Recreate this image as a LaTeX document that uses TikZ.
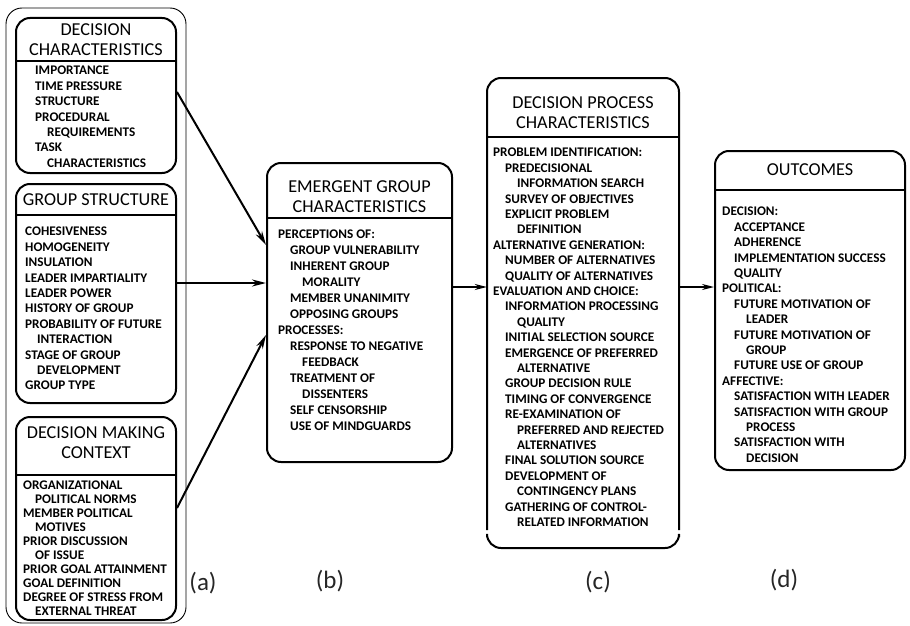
\documentclass[tikz,border=0pt]{standalone}
\usepackage{fontspec}
\setmainfont{Carlito}
\usetikzlibrary{arrows.meta}
\newcommand\indA{\hspace*{12pt}}
\newcommand\indB{\hspace*{24pt}}
\begin{document}
\begin{tikzpicture}[x=1pt,y=-1pt,
  boxline/.style={draw, line width=2pt, rounded corners=14pt, inner sep=0pt},
  frameline/.style={draw, line width=0.9pt, rounded corners=16pt},
  divider/.style={line width=1.3pt},
  title/.style={font=\fontsize{18.2}{20}\selectfont, align=center, inner sep=0pt},
  items/.style={font=\fontsize{13.2}{15.4}\selectfont\bfseries, align=left, anchor=north west, inner sep=0pt},
  link/.style={line width=2pt, -{Stealth[length=14pt,width=7pt]}},
  flow/.style={line width=1.5pt, -{Stealth[length=12pt,width=6pt]}},
  tag/.style={font=\fontsize{25}{30}\selectfont, text=black!85, inner sep=0pt}
]
\useasboundingbox (0,0) rectangle (910,626);

% ---------- column (a): antecedent conditions ----------
\draw[frameline] (6,8) rectangle (186,623);

\node[boxline, minimum width=160pt, minimum height=155pt] (a1) at (96,95.5) {};
\draw[divider] (a1.west |- 0,61) -- (a1.east |- 0,61);
\node[title] (a1t) at (96,40) {DECISION\\CHARACTERISTICS};
\node[items] (a1i) at (35,66) {IMPORTANCE\\TIME PRESSURE\\STRUCTURE\\PROCEDURAL\\
\indA REQUIREMENTS\\TASK\\\indA CHARACTERISTICS};

\node[boxline, minimum width=160pt, minimum height=219pt] (a2) at (96,293.5) {};
\draw[divider] (a2.west |- 0,215) -- (a2.east |- 0,215);
\node[title] (a2t) at (96,200) {GROUP STRUCTURE};
\node[items] (a2i) at (25,227) {COHESIVENESS\\HOMOGENEITY\\INSULATION\\LEADER IMPARTIALITY\\
LEADER POWER\\HISTORY OF GROUP\\PROBABILITY OF FUTURE\\\indA INTERACTION\\
STAGE OF GROUP\\\indA DEVELOPMENT\\GROUP TYPE};

\node[boxline, minimum width=160pt, minimum height=203pt] (a3) at (96,518.5) {};
\draw[divider] (a3.west |- 0,475) -- (a3.east |- 0,475);
\node[title] (a3t) at (96,443) {DECISION MAKING\\CONTEXT};
\node[items, font=\fontsize{13.2}{14}\selectfont\bfseries] (a3i) at (23,481) {ORGANIZATIONAL\\
\indA POLITICAL NORMS\\MEMBER POLITICAL\\\indA MOTIVES\\PRIOR DISCUSSION\\\indA OF ISSUE\\
PRIOR GOAL ATTAINMENT\\GOAL DEFINITION\\DEGREE OF STRESS FROM\\\indA EXTERNAL THREAT};

% ---------- column (b): emergent group characteristics ----------
\node[boxline, minimum width=185pt, minimum height=299pt] (b) at (359.5,312.5) {};
\draw[divider] (b.west |- 0,218) -- (b.east |- 0,218);
\node[title] (bt) at (359.5,197) {EMERGENT GROUP\\CHARACTERISTICS};
\node[items, font=\fontsize{13.2}{16}\selectfont\bfseries] (bi) at (278,230) {PERCEPTIONS OF:\\
\indA GROUP VULNERABILITY\\\indA INHERENT GROUP\\\indB MORALITY\\\indA MEMBER UNANIMITY\\
\indA OPPOSING GROUPS\\PROCESSES:\\\indA RESPONSE TO NEGATIVE\\\indB FEEDBACK\\
\indA TREATMENT OF\\\indB DISSENTERS\\\indA SELF CENSORSHIP\\\indA USE OF MINDGUARDS};

% ---------- column (c): decision process characteristics ----------
\node[inner sep=0pt, minimum width=192pt, minimum height=470pt] (c) at (583,313) {};
\draw[boxline] (487,530) -- (487,78) -- (679,78) -- (679,530);
\draw[boxline] (487,537) -- (487,548) -- (679,548) -- (679,537);
\draw[divider] (c.west |- 0,137) -- (c.east |- 0,137);
\node[title] (ct) at (583,113) {DECISION PROCESS\\CHARACTERISTICS};
\node[items] (ci) at (493,148) {PROBLEM IDENTIFICATION:\\
\indA PREDECISIONAL\\\indB INFORMATION SEARCH\\\indA SURVEY OF OBJECTIVES\\
\indA EXPLICIT PROBLEM\\\indB DEFINITION\\ALTERNATIVE GENERATION:\\
\indA NUMBER OF ALTERNATIVES\\\indA QUALITY OF ALTERNATIVES\\EVALUATION AND CHOICE:\\
\indA INFORMATION PROCESSING\\\indB QUALITY\\\indA INITIAL SELECTION SOURCE\\
\indA EMERGENCE OF PREFERRED\\\indB ALTERNATIVE\\\indA GROUP DECISION RULE\\
\indA TIMING OF CONVERGENCE\\\indA RE-EXAMINATION OF\\\indB PREFERRED AND REJECTED\\
\indB ALTERNATIVES\\\indA FINAL SOLUTION SOURCE\\\indA DEVELOPMENT OF\\
\indB CONTINGENCY PLANS\\\indA GATHERING OF CONTROL-\\\indB RELATED INFORMATION};

% ---------- column (d): outcomes ----------
\node[boxline, minimum width=190pt, minimum height=319pt] (d) at (810,310.5) {};
\draw[divider] (d.west |- 0,190) -- (d.east |- 0,190);
\node[title] (dt) at (810,170) {OUTCOMES};
\node[items] (di) at (722,207) {DECISION:\\\indA ACCEPTANCE\\\indA ADHERENCE\\
\indA IMPLEMENTATION SUCCESS\\\indA QUALITY\\POLITICAL:\\\indA FUTURE MOTIVATION OF\\
\indB LEADER\\\indA FUTURE MOTIVATION OF\\\indB GROUP\\\indA FUTURE USE OF GROUP\\
AFFECTIVE:\\\indA SATISFACTION WITH LEADER\\\indA SATISFACTION WITH GROUP\\
\indB PROCESS\\\indA SATISFACTION WITH\\\indB DECISION};

% ---------- connectors ----------
\draw[link] (a1.east |- 0,92) -- (b.west |- 0,245);
\draw[link] (a2.east |- 0,283) -- (b.west |- 0,283);
\draw[link] (a3.east |- 0,508) -- (b.west |- 0,335);
\draw[flow] (b.east |- 0,287) -- (c.west |- 0,287);
\draw[flow] (c.east |- 0,287) -- (d.west |- 0,287);

% ---------- column tags ----------
\node[tag] (ta) at (203,583) {(a)};
\node[tag] (tb) at (330,581) {(b)};
\node[tag] (tc) at (598,582) {(c)};
\node[tag] (td) at (784,580) {(d)};
\end{tikzpicture}
\end{document}
